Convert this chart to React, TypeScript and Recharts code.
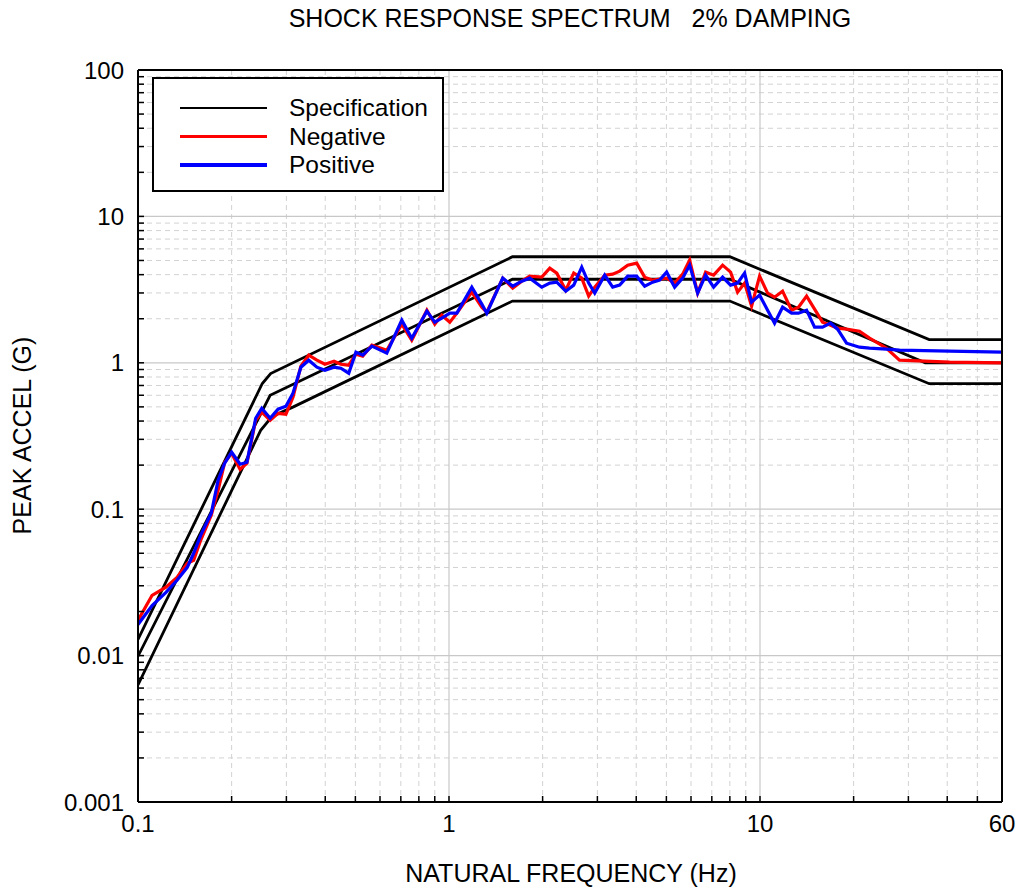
import { CartesianGrid, Legend, Line, LineChart, XAxis, YAxis } from "recharts";

const FREQ = [
  0.1, 0.111, 0.123, 0.1335, 0.144, 0.151, 0.159, 0.172, 0.181, 0.19,
  0.2, 0.213, 0.224, 0.239, 0.25, 0.266, 0.282, 0.299, 0.315, 0.334,
  0.354, 0.376, 0.399, 0.427, 0.449, 0.476, 0.502, 0.528, 0.565, 0.631,
  0.705, 0.759, 0.849, 0.9, 0.948, 1.006, 1.06, 1.184, 1.275, 1.323,
  1.489, 1.603, 1.714, 1.818, 1.987, 2.109, 2.221, 2.374, 2.518, 2.672,
  2.813, 2.942, 3.167, 3.36, 3.538, 3.755, 4.013, 4.258, 4.517, 4.757,
  5.01, 5.316, 5.641, 5.94, 6.302, 6.687, 7.094, 7.582, 8.044, 8.472,
  8.923, 9.397, 9.97, 10.58, 11.14, 11.82, 12.63, 13.3, 14.12, 14.98,
  15.89, 16.86, 17.76, 18.98, 20.89, 22.5, 25.52, 28.09, 40.68, 60,
];

const NEGATIVE = [
  0.0174, 0.0258, 0.0293, 0.0342, 0.0427, 0.0447, 0.0613, 0.0909, 0.135, 0.209,
  0.241, 0.187, 0.206, 0.405, 0.46, 0.405, 0.452, 0.445, 0.582, 0.948,
  1.127, 1.042, 0.978, 1.025, 0.978, 0.963, 1.145, 1.109, 1.319, 1.219,
  1.836, 1.427, 2.288, 1.836, 2.115, 1.894, 2.183, 3.038, 2.399, 2.218,
  3.787, 3.236, 3.612, 3.907, 3.846, 4.431, 4.097, 3.135, 4.097, 3.787,
  2.852, 3.286, 3.97, 4.033, 4.228, 4.647, 4.795, 3.846, 3.669, 3.728,
  3.787, 3.501, 4.033, 5.027, 2.99, 4.162, 3.97, 4.647, 4.162, 3.038,
  3.501, 2.437, 3.907, 2.99, 2.808, 3.086, 2.288, 2.399, 2.852, 2.325,
  1.894, 1.807, 1.724, 1.697, 1.644, 1.473, 1.258, 1.042, 1.01, 1.0,
];

const POSITIVE = [
  0.0163, 0.022, 0.027, 0.0327, 0.0401, 0.05, 0.0663, 0.0938, 0.158, 0.206,
  0.245, 0.203, 0.209, 0.418, 0.489, 0.418, 0.482, 0.505, 0.62, 0.933,
  1.042, 0.933, 0.89, 0.933, 0.919, 0.849, 1.181, 1.127, 1.299, 1.163,
  1.955, 1.473, 2.253, 1.894, 2.018, 2.183, 2.183, 3.286, 2.515, 2.183,
  3.787, 3.338, 3.612, 3.787, 3.286, 3.501, 3.556, 3.086, 3.392, 4.503,
  3.501, 2.99, 3.97, 3.286, 3.392, 3.907, 3.907, 3.338, 3.556, 3.669,
  4.162, 3.286, 3.787, 4.647, 2.99, 3.97, 3.286, 3.846, 3.392, 3.501,
  4.097, 2.596, 2.898, 2.288, 1.865, 2.399, 2.183, 2.183, 2.288, 1.751,
  1.751, 1.865, 1.697, 1.361, 1.278, 1.258, 1.239, 1.219, 1.2, 1.181,
];

// specification envelope: nominal plus upper/lower tolerance bands
const SPEC_UP_F = [0.1, 0.251, 0.267, 1.6, 8, 35, 60];
const SPEC_UP_G = [0.0129, 0.722, 0.845, 5.3, 5.3, 1.44, 1.44];
const SPEC_MID_F = [0.1, 0.266, 1.6, 8, 34, 60];
const SPEC_MID_G = [0.0099, 0.6, 3.72, 3.72, 1.0, 1.0];
const SPEC_LOW_F = [0.1, 0.248, 0.27, 0.316, 1.6, 8, 35, 60];
const SPEC_LOW_G = [0.0063, 0.346, 0.43, 0.5, 2.64, 2.64, 0.72, 0.72];

const X_TICKS = [0.1, 0.2, 0.3, 0.4, 0.5, 0.6, 0.7, 0.8, 0.9, 1, 2, 3, 4, 5, 6, 7, 8, 9, 10, 20, 30, 40, 50, 60];
const X_LABELS = ["0.1", "1", "10", "60"];
const X_MAJOR = [1, 10];
const X_MINOR = [0.2, 0.3, 0.4, 0.5, 0.6, 0.7, 0.8, 0.9, 2, 3, 4, 5, 6, 7, 8, 9, 20, 30, 40, 50];

const Y_TICKS = [
  0.001, 0.002, 0.003, 0.004, 0.005, 0.006, 0.007, 0.008, 0.009,
  0.01, 0.02, 0.03, 0.04, 0.05, 0.06, 0.07, 0.08, 0.09,
  0.1, 0.2, 0.3, 0.4, 0.5, 0.6, 0.7, 0.8, 0.9,
  1, 2, 3, 4, 5, 6, 7, 8, 9,
  10, 20, 30, 40, 50, 60, 70, 80, 90, 100,
];
const Y_LABELS = ["0.001", "0.01", "0.1", "1", "10", "100"];
const Y_MAJOR = [0.01, 0.1, 1, 10];
const Y_MINOR = Y_TICKS.filter((v) => !Y_LABELS.includes(String(v)));

const pairs = (fs: number[], gs: number[]) => fs.map((f, i) => ({ f, g: gs[i] }));

const SERIES = [
  { key: "up", name: "Specification", data: pairs(SPEC_UP_F, SPEC_UP_G), color: "#000000", width: 2.8 },
  { key: "mid", name: "Specification", data: pairs(SPEC_MID_F, SPEC_MID_G), color: "#000000", width: 2.8 },
  { key: "low", name: "Specification", data: pairs(SPEC_LOW_F, SPEC_LOW_G), color: "#000000", width: 2.8 },
  { key: "neg", name: "Negative", data: pairs(FREQ, NEGATIVE), color: "#ff0000", width: 3.2 },
  { key: "pos", name: "Positive", data: pairs(FREQ, POSITIVE), color: "#0000ff", width: 3.2 },
];

const LEGEND_ROWS = [
  { name: "Specification", color: "#000000", h: 2.5 },
  { name: "Negative", color: "#ff0000", h: 3.5 },
  { name: "Positive", color: "#0000ff", h: 3.5 },
];

const FONT = '"Liberation Sans", Arial, Helvetica, sans-serif';
const tickStyle = { fontSize: 24, fill: "#000" };

function LegendBox() {
  return (
    <div style={{
      position: "relative", width: 292, height: 115, boxSizing: "border-box",
      border: "2px solid #000", background: "#fff", fontFamily: FONT,
    }}>
      {LEGEND_ROWS.map((r, i) => (
        <div key={r.name} style={{ position: "absolute", left: 0, top: 29 + i * 28.5 - 16, height: 32, width: 290 }}>
          <div style={{ position: "absolute", left: 26, top: 16 - r.h / 2, width: 87, height: r.h, background: r.color }} />
          <div style={{ position: "absolute", left: 135, top: 0, lineHeight: "32px", fontSize: 24.5, color: "#000" }}>{r.name}</div>
        </div>
      ))}
    </div>
  );
}

export default function App() {
  return (
    <div style={{ position: "absolute", left: 0, top: 0, width: 1021, height: 892, background: "#fff", fontFamily: FONT }}>
      <div style={{ position: "absolute", left: 0, width: 1140, top: 6, fontSize: 25, lineHeight: "25px", textAlign: "center", whiteSpace: "pre" }}>
        {"SHOCK RESPONSE SPECTRUM   2% DAMPING"}
      </div>
      <LineChart width={1021} height={892} margin={{ top: 60, right: 9, bottom: 50, left: 38 }}>
        <CartesianGrid horizontalValues={Y_MINOR} verticalValues={X_MINOR} stroke="#d2d2d2" strokeDasharray="5 4" strokeWidth={1} />
        <CartesianGrid horizontalValues={Y_MAJOR} verticalValues={X_MAJOR} stroke="#c8c8c8" strokeWidth={1.2} />
        <XAxis
          dataKey="f" type="number" scale="log" domain={[0.1, 60]} allowDataOverflow
          ticks={X_TICKS} interval={0} height={40}
          tickFormatter={(v) => (X_LABELS.includes(String(v)) ? String(v) : "")}
          tick={tickStyle} tickSize={-6} tickMargin={19}
          axisLine={{ stroke: "#000", strokeWidth: 2 }} tickLine={{ stroke: "#000", strokeWidth: 1.5 }}
        />
        <XAxis
          xAxisId="top" orientation="top" type="number" scale="log" domain={[0.1, 60]} allowDataOverflow
          ticks={X_TICKS} interval={0} height={10} tick={false} tickSize={-6}
          axisLine={{ stroke: "#000", strokeWidth: 2 }} tickLine={{ stroke: "#000", strokeWidth: 1.5 }}
        />
        <YAxis
          type="number" scale="log" domain={[0.001, 100]} allowDataOverflow
          ticks={Y_TICKS} interval={0} width={100}
          tickFormatter={(v) => (Y_LABELS.includes(String(v)) ? String(v) : "")}
          tick={tickStyle} tickSize={-6} tickMargin={20}
          axisLine={{ stroke: "#000", strokeWidth: 2 }} tickLine={{ stroke: "#000", strokeWidth: 1.5 }}
        />
        <YAxis
          yAxisId="right" orientation="right" type="number" scale="log" domain={[0.001, 100]} allowDataOverflow
          ticks={Y_TICKS} interval={0} width={10} tick={false} tickSize={-6}
          axisLine={{ stroke: "#000", strokeWidth: 2 }} tickLine={{ stroke: "#000", strokeWidth: 1.5 }}
        />
        {SERIES.map((s) => (
          <Line
            key={s.key} data={s.data} dataKey="g" name={s.name} type="linear"
            stroke={s.color} strokeWidth={s.width} dot={false} activeDot={false}
            isAnimationActive={false} legendType="none"
          />
        ))}
        <Legend
          layout="vertical" align="center" verticalAlign="middle"
          wrapperStyle={{ left: 152, top: 77, width: 292, height: 115 }}
          content={() => <LegendBox />}
        />
      </LineChart>
      <div style={{ position: "absolute", left: 371, width: 400, top: 861, fontSize: 25, lineHeight: "25px", textAlign: "center" }}>
        NATURAL FREQUENCY (Hz)
      </div>
      <div style={{
        position: "absolute", left: -178.5, top: 423, width: 400, fontSize: 25, lineHeight: "25px",
        textAlign: "center", transform: "rotate(-90deg)",
      }}>
        PEAK ACCEL (G)
      </div>
    </div>
  );
}
